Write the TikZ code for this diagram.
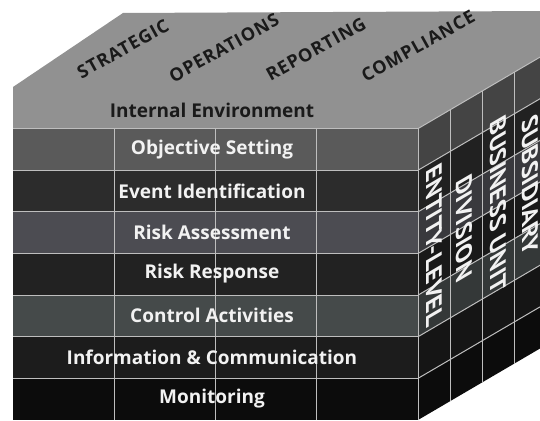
\documentclass[tikz,border=0pt]{standalone}
\usepackage{fontspec}
\setmainfont{Open Sans}
\newfontfamily\sidefont{PT Sans}
\newfontfamily\topfont[LetterSpace=5]{Open Sans}
\usepackage{tikz}
\usepackage{xcolor}
\definecolor{topgrey}{HTML}{919191}
\definecolor{objgrey}{HTML}{5A5A5A}
\definecolor{eventgrey}{HTML}{2C2C2C}
\definecolor{assessgrey}{HTML}{4C4C52}
\definecolor{responsegrey}{HTML}{222222}
\definecolor{controlgrey}{HTML}{454A4A}
\definecolor{infogrey}{HTML}{1C1C1C}
\definecolor{monitorgrey}{HTML}{0C0C0C}
\definecolor{gridgrey}{HTML}{BEBEBE}
\definecolor{inkgrey}{HTML}{1A1A1A}
\definecolor{labelwhite}{HTML}{F2F2F2}

\begin{document}
\begin{tikzpicture}[x=1pt, y=1pt,
    rowlabel/.style={text=labelwhite, font=\bfseries\fontsize{19}{19}\selectfont},
    toplabel/.style={text=inkgrey, rotate=29, font=\topfont\bfseries\fontsize{18}{18}\selectfont},
    sidelabel/.style={text=labelwhite, transform shape, font=\sidefont\bfseries\fontsize{26}{26}\selectfont},
    gridline/.style={draw=gridgrey, line width=1pt}]
\useasboundingbox (0,0) rectangle (540,420);

% top face with internal environment band
\fill[topgrey] (13,291.375) -- (13,333) -- (123,407) -- (546,409) -- (546,366.375) -- (418,291.375) -- cycle;

% front face
\fill[objgrey]      (13,249.75)  rectangle (418,291.375);
\fill[eventgrey]    (13,208.125) rectangle (418,249.75);
\fill[assessgrey]   (13,166.5)   rectangle (418,208.125);
\fill[responsegrey] (13,124.875) rectangle (418,166.5);
\fill[controlgrey]  (13,83.25)   rectangle (418,124.875);
\fill[infogrey]     (13,41.625)  rectangle (418,83.25);
\fill[monitorgrey]  (13,0)       rectangle (418,41.625);

% side face
\fill[objgrey!75!black]      (418,249.75)  -- (546,324.75)  -- (546,366.375) -- (418,291.375) -- cycle;
\fill[eventgrey!75!black]    (418,208.125) -- (546,283.125) -- (546,324.75)  -- (418,249.75)  -- cycle;
\fill[assessgrey!75!black]   (418,166.5)   -- (546,241.5)   -- (546,283.125) -- (418,208.125) -- cycle;
\fill[responsegrey!75!black] (418,124.875) -- (546,199.875) -- (546,241.5)   -- (418,166.5)   -- cycle;
\fill[controlgrey!75!black]  (418,83.25)   -- (546,158.25)  -- (546,199.875) -- (418,124.875) -- cycle;
\fill[infogrey!75!black]     (418,41.625)  -- (546,116.625) -- (546,158.25)  -- (418,83.25)   -- cycle;
\fill[monitorgrey]           (418,0)       -- (546,75)      -- (546,116.625) -- (418,41.625)  -- cycle;

% grid on the front
\draw[gridline] (13,291.375) -- (418,291.375);
\draw[gridline] (13,249.75)  -- (418,249.75);
\draw[gridline] (13,208.125) -- (418,208.125);
\draw[gridline] (13,166.5)   -- (418,166.5);
\draw[gridline] (13,124.875) -- (418,124.875);
\draw[gridline] (13,83.25)   -- (418,83.25);
\draw[gridline] (13,41.625)  -- (418,41.625);
\draw[gridline] (114.25,0) -- (114.25,291.375);
\draw[gridline] (215.5,0)  -- (215.5,291.375);
\draw[gridline] (316.75,0) -- (316.75,291.375);
\draw[gridline] (418,0)    -- (418,291.375);

% grid on the side
\draw[gridline] (418,291.375) -- (546,366.375);
\draw[gridline] (418,249.75)  -- (546,324.75);
\draw[gridline] (418,208.125) -- (546,283.125);
\draw[gridline] (418,166.5)   -- (546,241.5);
\draw[gridline] (418,124.875) -- (546,199.875);
\draw[gridline] (418,83.25)   -- (546,158.25);
\draw[gridline] (418,41.625)  -- (546,116.625);
\draw[gridline] (450,18.75) -- (450,310.125);
\draw[gridline] (482,37.5)  -- (482,328.875);
\draw[gridline] (514,56.25) -- (514,347.625);

% components
\node[rowlabel, text=inkgrey] (intenv)     at (212,310) {Internal Environment};
\node[rowlabel] (objset)     at (212,270.5) {Objective Setting};
\node[rowlabel] (eventid)    at (212,229)   {Event Identification};
\node[rowlabel] (riskassess) at (212,187.5) {Risk Assessment};
\node[rowlabel] (riskresp)   at (212,146)   {Risk Response};
\node[rowlabel] (ctrlact)    at (212,104.5) {Control Activities};
\node[rowlabel] (infocomm)   at (212,63)    {Information \& Communication};
\node[rowlabel] (monitor)    at (212,21.5)  {Monitoring};

% objectives
\node[toplabel] (strategic)  at (123,371) {STRATEGIC};
\node[toplabel] (operations) at (224,372) {OPERATIONS};
\node[toplabel] (reporting)  at (316,371) {REPORTING};
\node[toplabel] (compliance) at (418,374) {COMPLIANCE};

% units
\begin{scope}[shift={(434,175)}, cm={0,-1,0.862,0.506,(0,0)}]
  \node[sidelabel] (entity) {ENTITY-LEVEL};
\end{scope}
\begin{scope}[shift={(464,192)}, cm={0,-1,0.862,0.506,(0,0)}]
  \node[sidelabel] (division) {DIVISION};
\end{scope}
\begin{scope}[shift={(498,215)}, cm={0,-1,0.862,0.506,(0,0)}]
  \node[sidelabel] (business) {BUSINESS UNIT};
\end{scope}
\begin{scope}[shift={(530,235)}, cm={0,-1,0.862,0.506,(0,0)}]
  \node[sidelabel] (subsidiary) {SUBSIDIARY};
\end{scope}
\end{tikzpicture}
\end{document}
